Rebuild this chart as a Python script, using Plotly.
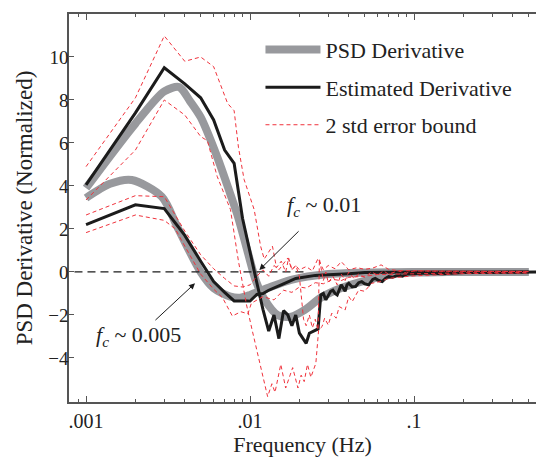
import plotly.graph_objects as go

# ---------------- data ----------------
# fc ~ 0.01 series
psd_a_f = [0.001, 0.002, 0.003, 0.0037, 0.0043, 0.005, 0.0063, 0.0076, 0.0085, 0.0097,
           0.0109, 0.0123, 0.0147, 0.0178, 0.0215, 0.027, 0.036, 0.0525, 0.08, 0.12, 0.2, 0.5]
psd_a_v = [3.9, 6.9, 8.4, 8.6, 7.95, 7.2, 5.36, 3.6, 2.5, 0.9,
           -0.45, -1.3, -2.0, -2.08, -1.77, -1.2, -0.75, -0.37, -0.06, -0.02, 0.0, 0.0]

est_a_f = [0.001, 0.002, 0.003, 0.004, 0.005, 0.006, 0.007, 0.008, 0.009, 0.010,
           0.011, 0.012, 0.013, 0.014, 0.015, 0.016, 0.017, 0.018, 0.019, 0.020,
           0.021, 0.022, 0.023, 0.024, 0.025, 0.026, 0.027, 0.028, 0.029, 0.030,
           0.031, 0.032, 0.033, 0.034, 0.035, 0.036, 0.037, 0.038, 0.039, 0.040,
           0.042, 0.044, 0.046, 0.048, 0.050, 0.053, 0.056, 0.058, 0.061, 0.064,
           0.067, 0.070, 0.074, 0.077, 0.080, 0.085, 0.090, 0.10, 0.12, 0.15,
           0.20, 0.30, 0.50, 0.56]
est_a_v = [4.05, 7.4, 9.5, 8.75, 8.1, 7.07, 5.67, 5.05, 2.5, 1.0,
           -0.5, -1.75, -2.75, -2.0, -3.1, -1.8, -2.0, -2.5, -2.0, -2.85,
           -3.1, -3.32, -2.85, -2.77, -2.7, -2.65, -1.07, -1.0, -1.3, -1.1,
           -0.9, -0.85, -1.0, -1.07, -0.8, -0.6, -0.75, -0.9, -0.6, -0.53,
           -0.7, -0.68, -0.5, -0.45, -0.55, -0.6, -0.35, -0.3, -0.4, -0.45,
           -0.3, -0.22, -0.25, -0.19, -0.15, -0.2, -0.1, -0.08, -0.05, -0.08,
           -0.03, -0.02, 0.0, 0.0]

up_a_f = [0.001, 0.002, 0.003, 0.004, 0.005, 0.006, 0.0073, 0.008, 0.0085, 0.0092,
          0.0106, 0.0116, 0.0122, 0.013, 0.0137, 0.0145, 0.0155, 0.0165, 0.0172, 0.018,
          0.019, 0.020, 0.0212, 0.022, 0.023, 0.024, 0.025, 0.026, 0.0265, 0.028,
          0.029, 0.030, 0.032, 0.034, 0.036, 0.038, 0.040, 0.043, 0.046, 0.050,
          0.055, 0.060, 0.065, 0.070, 0.080, 0.090, 0.10, 0.15, 0.20, 0.30, 0.50]
up_a_v = [4.9, 8.1, 10.98, 9.8, 10.0, 9.55, 7.84, 7.5, 5.8, 4.3,
          2.9, 1.2, 0.6, 0.9, 1.2, 0.2, 0.5, 0.0, 0.65, 0.1,
          0.3, -0.2, -2.2, -2.5, -2.0, -2.6, -2.2, -2.7, 0.6, -0.4,
          0.0, -0.5, -0.2, -0.6, -0.1, -0.4, 0.0, -0.3, -0.1, -0.25,
          0.0, -0.15, 0.05, -0.1, 0.05, -0.05, 0.05, 0.03, 0.04, 0.03, 0.03]

lo_a_f = [0.001, 0.002, 0.003, 0.004, 0.005, 0.0055, 0.0063, 0.0076, 0.0085, 0.0095,
          0.0103, 0.0115, 0.0128, 0.0136, 0.0142, 0.0154, 0.0165, 0.0182, 0.0196, 0.0205,
          0.0214, 0.0224, 0.0235, 0.0252, 0.0262, 0.0275, 0.0285, 0.030, 0.0315, 0.0335,
          0.035, 0.038, 0.040, 0.042, 0.046, 0.050, 0.055, 0.062, 0.070, 0.080,
          0.10, 0.15, 0.20, 0.30, 0.50]
lo_a_v = [3.35, 5.67, 8.0, 7.3, 6.3, 6.1, 4.45, 2.9, 0.5, -1.5,
          -2.7, -4.3, -5.8, -5.2, -5.6, -4.3, -5.4, -4.45, -5.4, -4.8,
          -5.1, -4.3, -4.9, -4.25, -2.7, -2.54, -2.15, -2.47, -1.92, -2.15,
          -1.61, -1.77, -1.15, -1.38, -0.84, -0.9, -0.53, -0.45, -0.3, -0.25,
          -0.18, -0.12, -0.08, -0.06, -0.05]

# fc ~ 0.005 series
psd_b_f = [0.001, 0.0014, 0.0019, 0.0029, 0.0036, 0.005, 0.006, 0.0076, 0.0087, 0.010,
           0.0128, 0.0178, 0.030, 0.050, 0.10, 0.50]
psd_b_v = [3.44, 4.1, 4.28, 3.5, 2.1, 0.0, -0.75, -1.15, -1.2, -1.07,
           -0.75, -0.37, -0.1, -0.03, 0.0, 0.0]

est_b_f = [0.001, 0.002, 0.003, 0.004, 0.005, 0.006, 0.007, 0.008, 0.009, 0.010,
           0.011, 0.012, 0.013, 0.014, 0.016, 0.019, 0.022, 0.025, 0.028, 0.033,
           0.040, 0.050, 0.070, 0.10, 0.20, 0.50]
est_b_v = [2.2, 3.12, 2.95, 1.7, 0.5, -0.45, -0.95, -1.35, -1.35, -1.35,
           -1.05, -1.0, -0.85, -0.75, -0.55, -0.3, -0.22, -0.16, -0.14, -0.12,
           -0.08, -0.03, 0.0, 0.0, 0.0, 0.0]

up_b_f = [0.001, 0.002, 0.003, 0.004, 0.005, 0.006, 0.007, 0.008, 0.009, 0.010,
          0.011, 0.012, 0.013, 0.014, 0.015, 0.016, 0.017, 0.018, 0.019, 0.020,
          0.022, 0.024, 0.026, 0.028, 0.030, 0.033, 0.036, 0.040, 0.045, 0.050,
          0.056, 0.063, 0.070, 0.080, 0.10, 0.15, 0.30, 0.50]
up_b_v = [2.65, 3.55, 3.5, 1.9, 0.8, 0.15, -0.3, -0.65, -0.7, -0.6,
          -0.2, 0.1, -0.2, 0.3, 0.1, 0.4, 0.65, 0.1, 0.3, 0.1,
          0.25, 0.05, 0.63, 0.1, 0.3, 0.15, 0.48, 0.1, 0.2, 0.12,
          0.18, 0.33, 0.12, 0.06, 0.05, 0.03, 0.02, 0.02]

lo_b_f = [0.001, 0.002, 0.003, 0.0035, 0.004, 0.005, 0.006, 0.0068, 0.0078, 0.0088,
          0.0097, 0.0102, 0.012, 0.014, 0.016, 0.018, 0.020, 0.022, 0.025, 0.028,
          0.032, 0.036, 0.040, 0.050, 0.060, 0.080, 0.10, 0.20, 0.50]
lo_b_v = [1.83, 2.65, 2.4, 2.0, 1.2, -0.1, -0.8, -1.2, -2.05, -1.85,
          -1.95, -1.45, -1.15, -1.3, -0.85, -0.95, -0.7, -0.75, -0.5, -0.55,
          -0.35, -0.4, -0.25, -0.2, -0.12, -0.1, -0.06, -0.04, -0.03]

zero_f = [0.00085, 0.022]
zero_v = [0.0, 0.0]

x_tick_vals = [0.001, 0.01, 0.1]
x_tick_text = ['.001', '.01', '.1']
x_minor_vals = [0.0009, 0.002, 0.003, 0.004, 0.005, 0.006, 0.007, 0.008, 0.009,
                0.02, 0.03, 0.04, 0.05, 0.06, 0.07, 0.08, 0.09,
                0.2, 0.3, 0.4, 0.5]
y_tick_vals = [-4, -2, 0, 2, 4, 6, 8, 10]

# ---------------- styling ----------------
GRAY = '#98999d'
BLACK = '#1b1b1b'
RED = '#f0323c'
FONT = 'Liberation Serif'

fig = go.Figure()

fig.add_trace(go.Scatter(x=psd_a_f, y=psd_a_v, mode='lines', name='PSD Derivative',
                         legendgroup='g1', line=dict(color=GRAY, width=8, shape='spline', smoothing=0.8)))
fig.add_trace(go.Scatter(x=psd_b_f, y=psd_b_v, mode='lines', showlegend=False,
                         legendgroup='g1', line=dict(color=GRAY, width=8, shape='spline', smoothing=0.8)))
fig.add_trace(go.Scatter(x=zero_f, y=zero_v, mode='lines', showlegend=False,
                         line=dict(color=BLACK, width=1.2, dash='8px,5px')))
fig.add_trace(go.Scatter(x=est_a_f, y=est_a_v, mode='lines', name='Estimated Derivative',
                         legendgroup='g2', line=dict(color=BLACK, width=3)))
fig.add_trace(go.Scatter(x=est_b_f, y=est_b_v, mode='lines', showlegend=False,
                         legendgroup='g2', line=dict(color=BLACK, width=3)))
for i, (fx, fy) in enumerate([(up_a_f, up_a_v), (lo_a_f, lo_a_v), (up_b_f, up_b_v), (lo_b_f, lo_b_v)]):
    fig.add_trace(go.Scatter(x=fx, y=fy, mode='lines', name='2 std error bound',
                             showlegend=(i == 0), legendgroup='g3',
                             line=dict(color=RED, width=1, dash='4px,3px')))

# annotations: arrow head at the curve, text offset in pixels
fig.add_annotation(x=-1.9433, y=0.093, xref='x', yref='y', showarrow=True,
                   text='<i>f</i><sub><i>c</i></sub> ~ 0.01',
                   ax=65, ay=-64, startstandoff=14,
                   arrowhead=2, arrowsize=1.2, arrowwidth=1, arrowcolor=BLACK,
                   font=dict(family=FONT, size=22, color='#222'))
fig.add_annotation(x=-2.3354, y=-0.526, xref='x', yref='y', showarrow=True,
                   text='<i>f</i><sub><i>c</i></sub> ~ 0.005',
                   ax=-57, ay=53, startstandoff=1,
                   arrowhead=2, arrowsize=1.2, arrowwidth=1, arrowcolor=BLACK,
                   font=dict(family=FONT, size=22, color='#222'))

fig.update_layout(
    width=536, height=459,
    margin=dict(l=69, r=0, t=14, b=57),
    paper_bgcolor='white', plot_bgcolor='white',
    font=dict(family=FONT, size=20, color='#222'),
    legend=dict(x=0.41, y=0.962, xanchor='left', yanchor='top', bgcolor='rgba(0,0,0,0)',
                font=dict(family=FONT, size=22, color='#222'), traceorder='grouped',
                tracegroupgap=6, itemwidth=55),
    xaxis=dict(type='log', range=[-3.104, -0.256], showgrid=False, zeroline=False,
               showline=True, linecolor='#555', linewidth=1.5, mirror='ticks',
               ticks='inside', ticklen=6, tickcolor='#555', tickwidth=1,
               tickvals=x_tick_vals, ticktext=x_tick_text, ticklabelstandoff=0,
               tickfont=dict(size=20),
               minor=dict(tickvals=x_minor_vals, ticks='inside', ticklen=3, tickcolor='#555'),
               title=dict(text='Frequency (Hz)', font=dict(size=22), standoff=4)),
    yaxis=dict(range=[-6.05, 12.0], showgrid=False, zeroline=False,
               showline=True, linecolor='#555', linewidth=1.5, mirror=False,
               ticks='inside', ticklen=5, tickcolor='#555', tickwidth=1,
               tickvals=y_tick_vals, ticklabelstandoff=-5, tickfont=dict(size=19),
               title=dict(text='PSD Derivative (Normalized)', font=dict(size=23), standoff=9)),
)

fig.write_html('out.html')
